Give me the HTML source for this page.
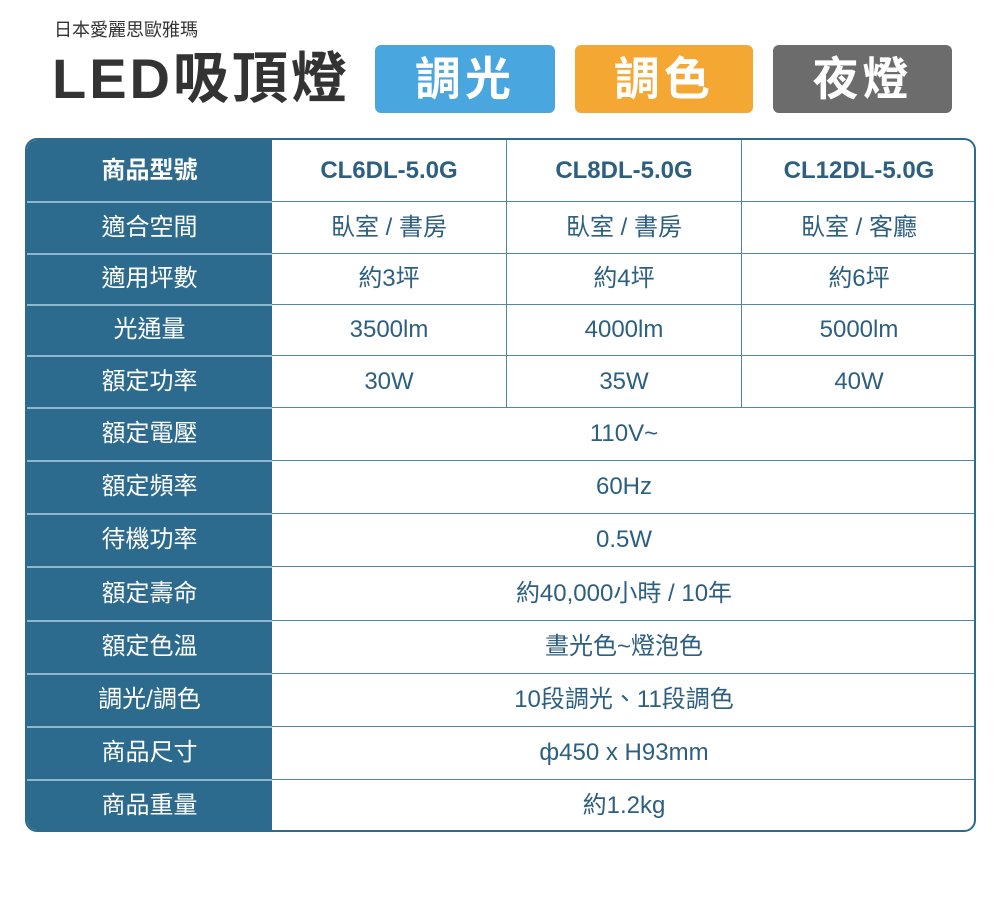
<!DOCTYPE html>
<html><head><meta charset="utf-8"><style>
*{margin:0;padding:0;box-sizing:border-box}
body{width:1000px;height:905px;background:#fff;position:relative;overflow:hidden;font-family:"Liberation Sans","Noto Sans CJK TC",sans-serif}
.sub{position:absolute;left:54px;top:16px;font-size:18px;color:#333}
.title{position:absolute;left:52px;top:44px;font-size:56px;font-weight:bold;color:#333;line-height:70px;letter-spacing:3px}
.badge{position:absolute;top:45px;height:68px;border-radius:6px;color:#fff;font-size:46px;font-weight:bold;text-align:center;line-height:68px;letter-spacing:4px}
.tbl{position:absolute;left:25px;top:138px;width:951px;height:694px;border:2px solid #2c6a8e;border-radius:12px;overflow:hidden}
.left{position:absolute;left:0;top:0;width:245px;height:100%;background:#2c6a8e}
.r{position:absolute;left:0;width:100%;font-size:24px;line-height:1}
.r div{position:absolute;top:0;height:100%;display:flex;align-items:center;justify-content:center}
.h{color:#fff;left:0;width:245px}
.c{color:#2c5f80}
.a{left:245px;width:234px}.b{left:480px;width:234px}.d{left:715px;width:234px}.f{left:245px;width:704px}
.bold{font-weight:bold}
.hl{position:absolute;height:2px;background:#8fb8d0;left:0;width:245px}
.hl2{position:absolute;height:1px;background:#4f88a8;left:245px;right:0}
.vl{position:absolute;width:1px;background:#4f88a8}
</style></head><body>
<div class="sub">日本愛麗思歐雅瑪</div>
<div class="title">LED吸頂燈</div>
<div class="badge" style="left:375px;width:180px;background:#4aa6df">調光</div>
<div class="badge" style="left:575px;width:178px;background:#f5a733">調色</div>
<div class="badge" style="left:773px;width:179px;background:#6c6c6c">夜燈</div>
<div class="tbl">
<div class="left"></div>
<div class="vl" style="left:479px;top:0;height:267px"></div>
<div class="vl" style="left:714px;top:0;height:267px"></div>
<div class="r" style="top:0;height:61px"><div class="h bold">商品型號</div><div class="c a bold">CL6DL-5.0G</div><div class="c b bold">CL8DL-5.0G</div><div class="c d bold">CL12DL-5.0G</div></div>
<div class="hl" style="top:61px"></div><div class="hl2" style="top:61px"></div>
<div class="r" style="top:62px;height:51px"><div class="h">適合空間</div><div class="c a">臥室 / 書房</div><div class="c b">臥室 / 書房</div><div class="c d">臥室 / 客廳</div></div>
<div class="hl" style="top:113px"></div><div class="hl2" style="top:113px"></div>
<div class="r" style="top:114px;height:50px"><div class="h">適用坪數</div><div class="c a">約3坪</div><div class="c b">約4坪</div><div class="c d">約6坪</div></div>
<div class="hl" style="top:164px"></div><div class="hl2" style="top:164px"></div>
<div class="r" style="top:165px;height:50px"><div class="h">光通量</div><div class="c a">3500lm</div><div class="c b">4000lm</div><div class="c d">5000lm</div></div>
<div class="hl" style="top:215px"></div><div class="hl2" style="top:215px"></div>
<div class="r" style="top:216px;height:51px"><div class="h">額定功率</div><div class="c a">30W</div><div class="c b">35W</div><div class="c d">40W</div></div>
<div class="hl" style="top:267px"></div><div class="hl2" style="top:267px"></div>
<div class="r" style="top:268px;height:52px"><div class="h">額定電壓</div><div class="c f">110V~</div></div>
<div class="hl" style="top:320px"></div><div class="hl2" style="top:320px"></div>
<div class="r" style="top:321px;height:52px"><div class="h">額定頻率</div><div class="c f">60Hz</div></div>
<div class="hl" style="top:373px"></div><div class="hl2" style="top:373px"></div>
<div class="r" style="top:374px;height:52px"><div class="h">待機功率</div><div class="c f">0.5W</div></div>
<div class="hl" style="top:426px"></div><div class="hl2" style="top:426px"></div>
<div class="r" style="top:427px;height:53px"><div class="h">額定壽命</div><div class="c f">約40,000小時 / 10年</div></div>
<div class="hl" style="top:480px"></div><div class="hl2" style="top:480px"></div>
<div class="r" style="top:481px;height:52px"><div class="h">額定色溫</div><div class="c f">晝光色~燈泡色</div></div>
<div class="hl" style="top:533px"></div><div class="hl2" style="top:533px"></div>
<div class="r" style="top:534px;height:52px"><div class="h">調光/調色</div><div class="c f">10段調光、11段調色</div></div>
<div class="hl" style="top:586px"></div><div class="hl2" style="top:586px"></div>
<div class="r" style="top:587px;height:52px"><div class="h">商品尺寸</div><div class="c f">ф450 x H93mm</div></div>
<div class="hl" style="top:639px"></div><div class="hl2" style="top:639px"></div>
<div class="r" style="top:640px;height:52px"><div class="h">商品重量</div><div class="c f">約1.2kg</div></div>
</div>
</body></html>
